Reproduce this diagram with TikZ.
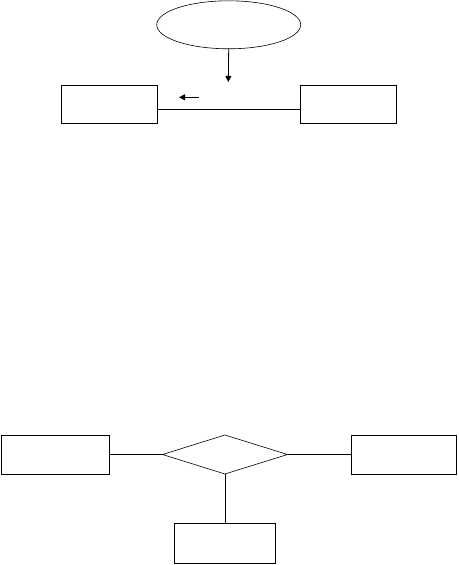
\documentclass[tikz,border=0pt]{standalone}
\usepackage{tikz}
\usetikzlibrary{shapes.geometric, arrows.meta, positioning}

\begin{document}
\begin{tikzpicture}[
  x=1pt, y=-1pt,
  ent/.style={rectangle, draw, line width=0.8pt, inner sep=0pt, outer sep=0pt},
  rel/.style={diamond, draw, line width=0.6pt, inner sep=0pt, outer sep=0pt, minimum width=125pt, minimum height=39pt},
  attr/.style={ellipse, draw, line width=0.6pt, inner sep=0pt, outer sep=0pt, minimum width=144pt, minimum height=48pt},
  link/.style={line width=0.8pt},
  arr/.style={-{Triangle[length=6pt, width=6pt]}, line width=0.8pt},
]
\useasboundingbox (0,0) rectangle (458,565);

% top part
\node[attr] (topattr) at (228.7,24.8) {};
\node[ent, minimum width=96pt, minimum height=38.5pt] (leftent)  at (109,104.5) {};
\node[ent, minimum width=96pt, minimum height=38.5pt] (rightent) at (348.5,104.5) {};
\coordinate (downtip) at (228.3,82);
\coordinate (flowfrom) at (199,97.3);
\coordinate (flowto)   at (179,97.3);

\draw[arr] (topattr.south) -- (downtip);
\draw[link] (leftent.east |- 0,109) -- (rightent.west |- 0,109);
\draw[arr] (flowfrom) -- (flowto);

% bottom part
\node[rel] (bottomrel) at (225,454.5) {};
\node[ent, minimum width=108pt, minimum height=39pt] (leftent2)  at (55.7,454.8) {};
\node[ent, minimum width=105.5pt, minimum height=39pt] (rightent2) at (404,454.8) {};
\node[ent, minimum width=100.5pt, minimum height=40.5pt] (lowent)   at (225,543.5) {};

\draw[link] (leftent2.east |- bottomrel) -- (bottomrel.west);
\draw[link] (bottomrel.east) -- (rightent2.west |- bottomrel);
\draw[link] (bottomrel.south) -- (lowent.north);
\end{tikzpicture}
\end{document}
